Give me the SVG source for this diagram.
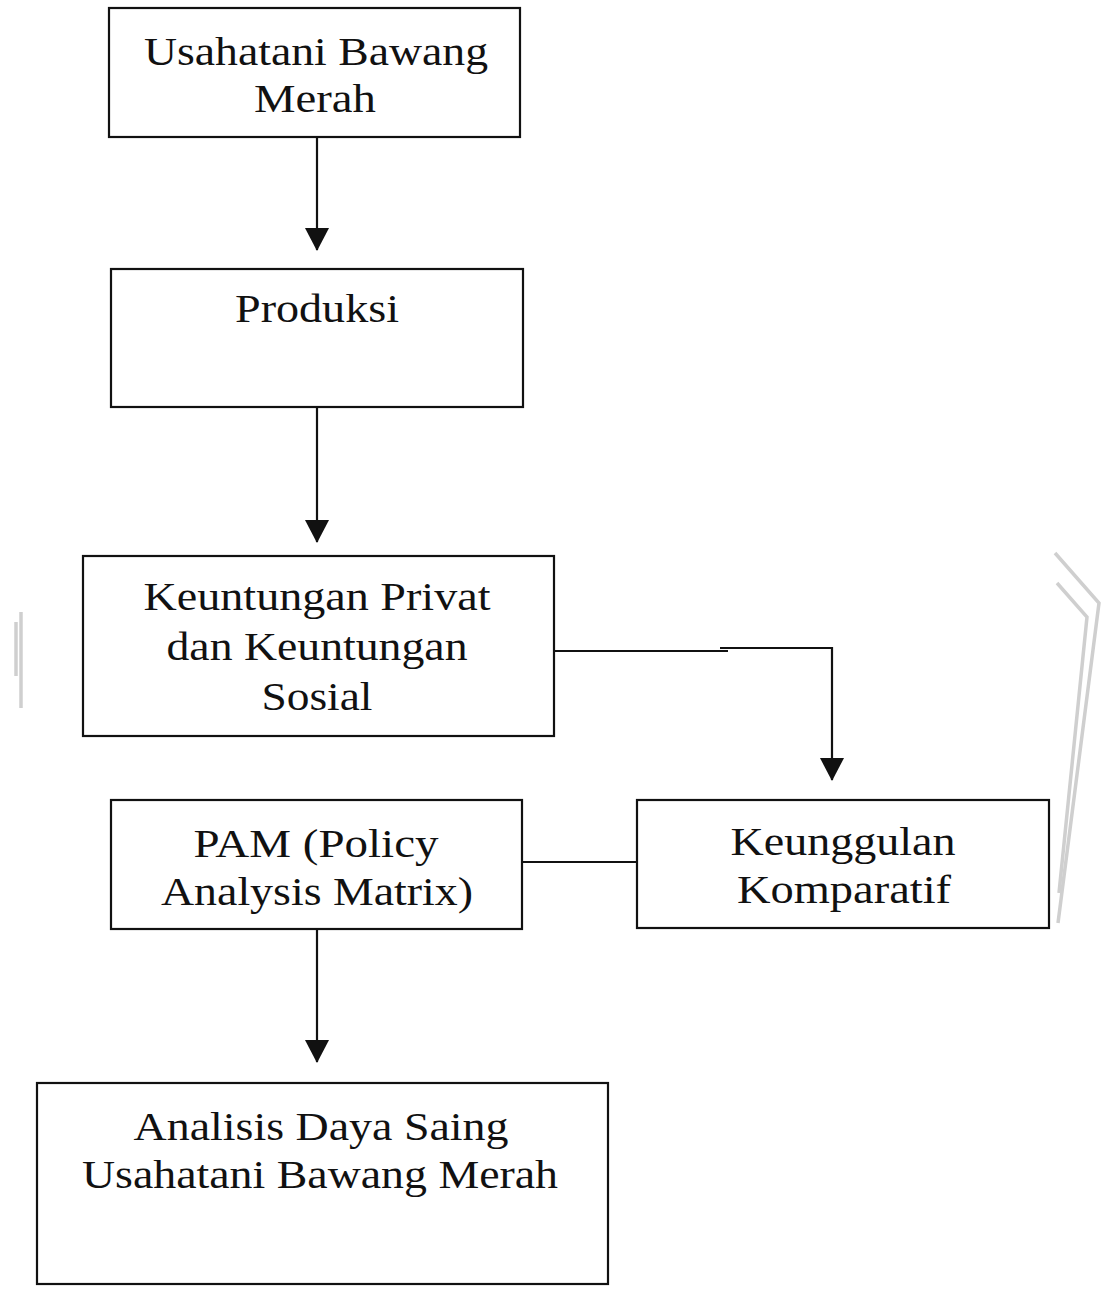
<svg xmlns="http://www.w3.org/2000/svg" width="1102" height="1289" viewBox="0 0 1102 1289">
<style>
.box{fill:#fff;stroke:#111;stroke-width:2.2}
.lbl{font-family:'Times New Roman','Liberation Serif',Tinos,serif;font-size:41px;fill:#111;text-anchor:middle}
.con{fill:none;stroke:#111;stroke-width:2.2}
.wm{fill:none;stroke:#cfcfcf;stroke-width:3.5}
</style>
<defs>
<marker id="arrL" markerWidth="24" markerHeight="24" refX="22" refY="12" orient="auto" markerUnits="userSpaceOnUse" viewBox="0 0 24 24">
<path d="M0,0 L23,12 L0,24 Z" fill="#111"/>
</marker>
</defs>
<g id="watermark">
<path class="wm" d="M21,612 L21,708"/>
<path class="wm" d="M16,622 L16,676"/>
<path class="wm" d="M1055,553 L1099,603 L1058,923"/>
<path class="wm" d="M1057,583 L1087,617 L1059,893"/>
</g>
<g id="connectors">
<path class="con" d="M317,137 L317,250" marker-end="url(#arrL)"/>
<path class="con" d="M317,407 L317,542" marker-end="url(#arrL)"/>
<path class="con" d="M554,651 L728,651"/>
<path class="con" d="M720,648 L832,648 L832,780" marker-end="url(#arrL)"/>
<path class="con" d="M522,862 L637,862"/>
<path class="con" d="M317,929 L317,1062" marker-end="url(#arrL)"/>
</g>
<g id="node1">
<rect class="box" x="109" y="8" width="411" height="129"/>
<text class="lbl" x="316" y="65" textLength="344" lengthAdjust="spacingAndGlyphs">Usahatani Bawang</text>
<text class="lbl" x="315" y="112" textLength="122" lengthAdjust="spacingAndGlyphs">Merah</text>
</g>
<g id="node2">
<rect class="box" x="111" y="269" width="412" height="138"/>
<text class="lbl" x="317" y="322" textLength="164" lengthAdjust="spacingAndGlyphs">Produksi</text>
</g>
<g id="node3">
<rect class="box" x="83" y="556" width="471" height="180"/>
<text class="lbl" x="317" y="610" textLength="347" lengthAdjust="spacingAndGlyphs">Keuntungan Privat</text>
<text class="lbl" x="317" y="660" textLength="301" lengthAdjust="spacingAndGlyphs">dan Keuntungan</text>
<text class="lbl" x="317" y="710" textLength="111" lengthAdjust="spacingAndGlyphs">Sosial</text>
</g>
<g id="node4">
<rect class="box" x="111" y="800" width="411" height="129"/>
<text class="lbl" x="316" y="857" textLength="245" lengthAdjust="spacingAndGlyphs">PAM (Policy</text>
<text class="lbl" x="317" y="905" textLength="312" lengthAdjust="spacingAndGlyphs">Analysis Matrix)</text>
</g>
<g id="node5">
<rect class="box" x="637" y="800" width="412" height="128"/>
<text class="lbl" x="843" y="855" textLength="225" lengthAdjust="spacingAndGlyphs">Keunggulan</text>
<text class="lbl" x="844" y="903" textLength="214" lengthAdjust="spacingAndGlyphs">Komparatif</text>
</g>
<g id="node6">
<rect class="box" x="37" y="1083" width="571" height="201"/>
<text class="lbl" x="321" y="1140" textLength="375" lengthAdjust="spacingAndGlyphs">Analisis Daya Saing</text>
<text class="lbl" x="320" y="1188" textLength="476" lengthAdjust="spacingAndGlyphs">Usahatani Bawang Merah</text>
</g>
</svg>
